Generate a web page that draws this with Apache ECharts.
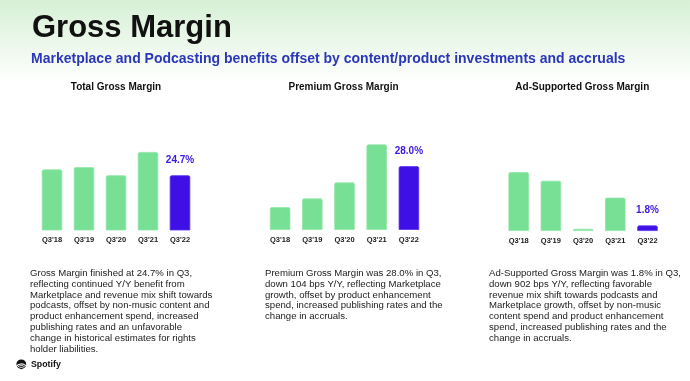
<!DOCTYPE html>
<html>
<head>
<meta charset="utf-8">
<script src="https://cdn.jsdelivr.net/npm/echarts@6/dist/echarts.min.js"></script>
<style>html,body{margin:0;padding:0;background:#fff}#c{width:690px;height:381px}</style>
</head>
<body>
<div id="c"></div>
<script>
const categories = ["Q3'18", "Q3'19", "Q3'20", "Q3'21", "Q3'22"];
const totalValues = [25.2, 25.4, 24.7, 26.7, 24.7];
const premiumValues = [26.06, 26.47, 27.23, 29.03, 28.0];
const adValues = [19.1, 16.3, 0.7, 10.8, 1.8];
const valueLabels = ["24.7%", "28.0%", "1.8%"];
const panelTitles = ["Total Gross Margin", "Premium Gross Margin", "Ad-Supported Gross Margin"];
const mainTitle = "Gross Margin";
const subTitle = "Marketplace and Podcasting benefits offset by content/product investments and accruals";
const notes = [
  "Gross Margin finished at 24.7% in Q3,\nreflecting continued Y/Y benefit from\nMarketplace and revenue mix shift towards\npodcasts, offset by non-music content and\nproduct enhancement spend, increased\npublishing rates and an unfavorable\nchange in historical estimates for rights\nholder liabilities.",
  "Premium Gross Margin was 28.0% in Q3,\ndown 104 bps Y/Y, reflecting Marketplace\ngrowth, offset by product enhancement\nspend, increased publishing rates and the\nchange in accruals.",
  "Ad-Supported Gross Margin was 1.8% in Q3,\ndown 902 bps Y/Y, reflecting favorable\nrevenue mix shift towards podcasts and\nMarketplace growth, offset by non-music\ncontent spend and product enhancement\nspend, increased publishing rates and the\nchange in accruals."
];

const GREEN = '#77e095';
const PURPLE = '#3f10e6';
const FONT = 'Liberation Sans, Arial, Helvetica, sans-serif';

const grids = [
  {left: 36, top: 150, width: 160, height: 80},
  {left: 264, top: 140, width: 161, height: 89.5},
  {left: 502.6, top: 150, width: 161, height: 81}
];
const yRanges = [[20, 26.87], [25, 29.24], [0, 26.27]];
const seriesVals = [totalValues, premiumValues, adValues];

function mkData(vals, label) {
  return vals.map((v, i) => {
    const last = i === vals.length - 1;
    return {
      value: v,
      itemStyle: {color: last ? PURPLE : GREEN, borderColor: last ? '#5a33ee' : '#92e6a8', borderWidth: 0.8},
      label: last ? {show: true, position: 'top', distance: 10, formatter: label,
        color: '#3d18e0', fontSize: 10, fontWeight: 'bold', fontFamily: FONT} : {show: false}
    };
  });
}

const option = {
  animation: false,
  backgroundColor: '#ffffff',
  grid: grids.map(g => Object.assign({containLabel: false}, g)),
  xAxis: grids.map((g, i) => ({
    type: 'category', gridIndex: i, data: categories,
    axisLine: {show: false}, axisTick: {show: false},
    axisLabel: {color: '#1a1a1a', fontSize: 7.5, fontWeight: 'bold', fontFamily: FONT, margin: 6}
  })),
  yAxis: grids.map((g, i) => ({
    type: 'value', gridIndex: i, min: yRanges[i][0], max: yRanges[i][1],
    show: false, splitLine: {show: false}
  })),
  series: seriesVals.map((vals, i) => ({
    type: 'bar', xAxisIndex: i, yAxisIndex: i, barWidth: 20.5,
    data: mkData(vals, valueLabels[i]),
    itemStyle: {borderRadius: [1.5, 1.5, 0, 0]}
  })),
  graphic: [
    {type: 'rect', z: -10, silent: true, shape: {x: 0, y: 0, width: 690, height: 110},
     style: {fill: new echarts.graphic.LinearGradient(0, 0, 0, 1, [
       {offset: 0, color: '#d6f0d5'}, {offset: 0.75, color: '#ffffff'}, {offset: 1, color: '#ffffff'}])}},
    {type: 'text', x: 32, y: 28.8, style: {text: mainTitle, fontSize: 31, fontWeight: 'bold',
      fontFamily: FONT, fill: '#111111', verticalAlign: 'middle'}},
    {type: 'text', x: 31, y: 59, style: {text: subTitle, fontSize: 14, fontWeight: 'bold',
      fontFamily: FONT, fill: '#2a37b8', verticalAlign: 'middle'}},
    {type: 'text', x: 116, y: 87.3, style: {text: panelTitles[0], fontSize: 10, fontWeight: 'bold',
      fontFamily: FONT, fill: '#111', align: 'center', verticalAlign: 'middle'}},
    {type: 'text', x: 343.5, y: 87.3, style: {text: panelTitles[1], fontSize: 10, fontWeight: 'bold',
      fontFamily: FONT, fill: '#111', align: 'center', verticalAlign: 'middle'}},
    {type: 'text', x: 582.3, y: 87.3, style: {text: panelTitles[2], fontSize: 10, fontWeight: 'bold',
      fontFamily: FONT, fill: '#111', align: 'center', verticalAlign: 'middle'}},
    {type: 'text', x: 30, y: 268, style: {text: notes[0], fontSize: 9.6, lineHeight: 10.8,
      fontFamily: FONT, fill: '#222', verticalAlign: 'top'}},
    {type: 'text', x: 265, y: 268, style: {text: notes[1], fontSize: 9.6, lineHeight: 10.8,
      fontFamily: FONT, fill: '#222', verticalAlign: 'top'}},
    {type: 'text', x: 489, y: 268, style: {text: notes[2], fontSize: 9.6, lineHeight: 10.8,
      fontFamily: FONT, fill: '#222', verticalAlign: 'top'}},
    {type: 'circle', shape: {cx: 21.3, cy: 364.3, r: 4.9}, style: {fill: '#111'}},
    {type: 'arc', shape: {cx: 21.3, cy: 370.5, r: 6.6, startAngle: -Math.PI * 0.78, endAngle: -Math.PI * 0.24},
      style: {stroke: '#fff', lineWidth: 1.1, fill: null}},
    {type: 'arc', shape: {cx: 21.3, cy: 371.5, r: 5.7, startAngle: -Math.PI * 0.74, endAngle: -Math.PI * 0.28},
      style: {stroke: '#fff', lineWidth: 0.9, fill: null}},
    {type: 'arc', shape: {cx: 21.3, cy: 372.5, r: 5.0, startAngle: -Math.PI * 0.70, endAngle: -Math.PI * 0.32},
      style: {stroke: '#fff', lineWidth: 0.8, fill: null}},
    {type: 'text', x: 31, y: 364.3, style: {text: 'Spotify', fontSize: 8.8, fontWeight: 'bold',
      fontFamily: FONT, fill: '#111', verticalAlign: 'middle'}}
  ]
};

const chart = echarts.init(document.getElementById('c'), null, {renderer: 'canvas'});
chart.setOption(option);
</script>
</body>
</html>
